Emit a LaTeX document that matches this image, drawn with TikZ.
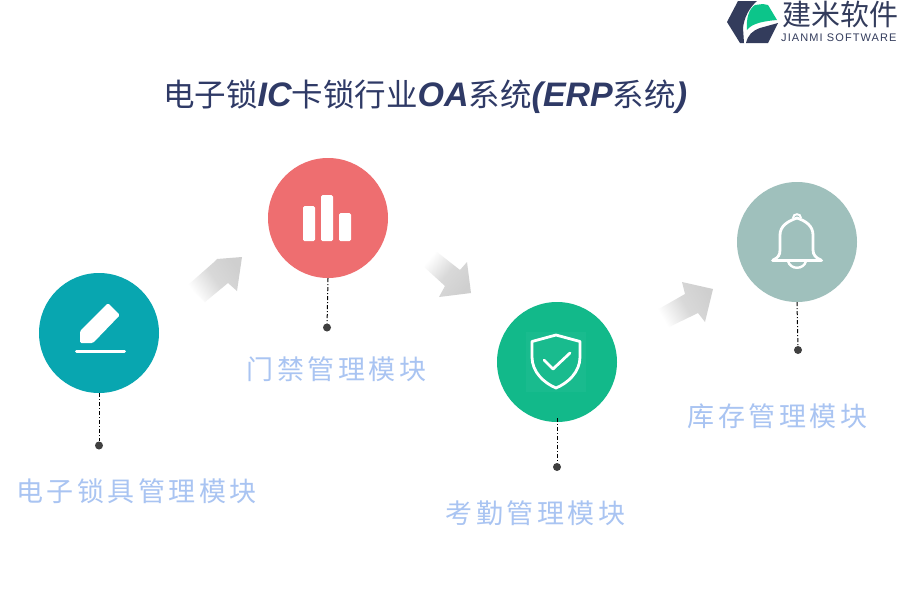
\documentclass[tikz,border=0pt]{standalone}
\usepackage{fontspec}
\setmainfont{Liberation Sans}
\newfontfamily\cjk{Noto Sans CJK SC}
\newfontfamily\cjkspaced[LetterSpace=13]{Noto Sans CJK SC}
\newfontfamily\latspaced[LetterSpace=10]{Liberation Sans}
\newcommand{\lt}[1]{{\rmfamily\fontsize{34}{36}\selectfont\bfseries\itshape #1}}
\definecolor{navy}{HTML}{2F3A66}
\definecolor{lbl}{HTML}{A9C4F2}
\definecolor{logod}{HTML}{333C5C}
\definecolor{logog}{HTML}{0CC58A}
\definecolor{teal1}{HTML}{08A6B0}
\definecolor{red1}{HTML}{EE6E70}
\definecolor{green1}{HTML}{12B98A}
\definecolor{sage}{HTML}{9FC0BC}
\definecolor{arrowg}{HTML}{CFCFCF}
\tikzset{
  disc/.style={circle,inner sep=0pt,minimum size=120pt,fill=#1},
  dotend/.style={circle,inner sep=0pt,minimum size=8pt,fill=black!75},
  leader/.style={draw=black,line width=1pt,dash pattern=on 4pt off 2pt on 1pt off 2pt},
  modlabel/.style={inner sep=0pt,text=lbl,font=\cjkspaced\fontsize{27}{30}\selectfont},
  iconline/.style={draw=white,line width=2.8pt,line join=round,line cap=round},
  arrowshade/.style={shade,top color=arrowg,bottom color=white,middle color=arrowg!80,shading angle=#1},
}
\begin{document}
\begin{tikzpicture}[x=1pt,y=-1pt]
\useasboundingbox (0,0) rectangle (900,600);
\fill[white] (0,0) rectangle (900,600);

% logo
\fill[logod] (727,22) -- (738,1) -- (757,1) .. controls (749,8) and (744,18) .. (743,28) -- (744,43) -- (740,43) -- cycle;
\fill[logod] (746,43) .. controls (748,35) and (752,31) .. (760,28) -- (778,23) -- (768,43) -- cycle;
\fill[logog] (747,30) .. controls (746,18) and (749,9) .. (755,5) -- (763,4) -- (768,5) -- (777,20) .. controls (765,21) and (752,23) .. (747,30) -- cycle;
\node[inner sep=0pt,anchor=west,text=logod,font=\cjk\fontsize{29}{30}\selectfont] (logoa) at (782,14) {建米软件};
\node[inner sep=0pt,anchor=west,text=logod,font=\latspaced\fontsize{11}{12}\selectfont] (logob) at (781,38) {JIANMI SOFTWARE};

% title
\node[inner sep=0pt,anchor=west,text=navy,font=\cjk\fontsize{31.5}{36}\selectfont] (title) at (163,96.5)
 {电子锁\lt{IC}卡锁行业\lt{OA}系统\lt{(ERP}系统\lt{)}};

% arrows
\path[arrowshade=-55]
 (242,257) -- (217,259) -- (213,263) -- (188,285) -- (205,302) -- (228,283) -- (237,291) -- cycle;
\path[arrowshade=-130]
 (471,293) -- (467,262) -- (460,270) -- (437,252) -- (422,265) -- (445,286) -- (439,297) -- cycle;
\path[arrowshade=-60]
 (713,289) -- (682,282) -- (685,294) -- (657,310) -- (667,328) -- (698,313) -- (705,322) -- cycle;

% discs
\node[disc=teal1] (c1) at (99,333) {};
\node[disc=red1] (c2) at (328,218) {};
\node[disc=green1] (c3) at (557,362) {};
\node[disc=sage] (c4) at (797,242) {};

% end dots and leaders
\node[dotend] (d1) at (99,445.5) {};
\node[dotend] (d2) at (327,327.5) {};
\node[dotend] (d3) at (557,467) {};
\node[dotend] (d4) at (798,350) {};
\coordinate (s3) at (557,418);
\draw[leader] (c1.south) -- (d1);
\draw[leader] (c2.south) -- (d2);
\draw[leader] (s3) -- (d3);
\draw[leader] (c4.south) -- (d4);

% pencil icon
\fill[white,rounded corners=1.5pt] (108,303) -- (120,315) -- (93,343) -- (80,343) -- (80,331) -- cycle;
\draw[white,line width=3pt,line cap=round] (76.5,351) -- (124.5,351);

% bars icon
\fill[white,rounded corners=1.5pt] (303,206) rectangle (315,241);
\fill[white,rounded corners=1.5pt] (321,195) rectangle (333,241);
\fill[white,rounded corners=1.5pt] (339,213) rectangle (351,241);

% shield icon
\fill[green1!97!white] (526,332) rectangle (586,392);
\draw[iconline] (556,335) -- (580,341.5) -- (580,357) .. controls (580,372) and (568,383) .. (556,388) .. controls (544,383) and (532,372) .. (532,357) -- (532,341.5) -- cycle;
\draw[iconline] (544,360) -- (553,369) -- (570,353);

% bell icon
\draw[iconline,line width=3pt] (772.5,260) -- (821.5,260);
\draw[iconline] (773,260) .. controls (778,258) and (780,255) .. (780,250) -- (780,235) .. controls (780,226) and (788,221) .. (797,218) .. controls (806,221) and (813,226) .. (813,235) -- (813,250) .. controls (813,255) and (816,258) .. (821,260);
\draw[white,line width=2pt] (793,218) .. controls (793,213) and (801,213) .. (801,218);
\draw[white,line width=2.4pt] (788,261) .. controls (790,270) and (804,270) .. (806,261);

% labels
\node[modlabel,anchor=west] (l1) at (16,491) {电子锁具管理模块};
\node[modlabel,anchor=west] (l2) at (246.5,369) {门禁管理模块};
\node[modlabel,anchor=west] (l3) at (445.5,513) {考勤管理模块};
\node[modlabel,anchor=west] (l4) at (687.5,416) {库存管理模块};
\end{tikzpicture}
\end{document}
